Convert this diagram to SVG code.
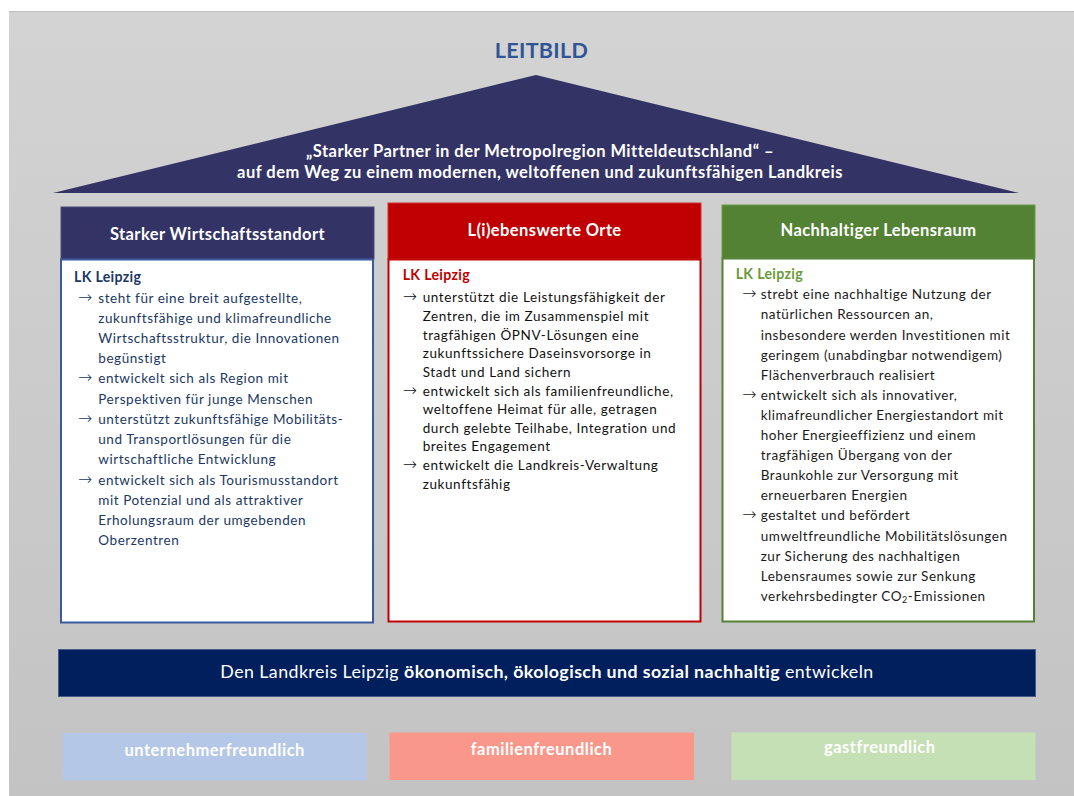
<svg xmlns="http://www.w3.org/2000/svg" width="1074" height="796" viewBox="0 0 1074 796">
<defs>
<linearGradient id="bg" x1="0" y1="0" x2="0" y2="1">
<stop offset="0" stop-color="#d3d3d3"/>
<stop offset="1" stop-color="#c3c3c3"/>
</linearGradient>
</defs>
<style>
text{font-family:Lato,"Liberation Sans","DejaVu Sans",sans-serif}
.hd{font-size:16.5px;font-weight:bold;fill:#ffffff;text-anchor:middle;letter-spacing:0.4px}
.roof{font-size:16.5px;font-weight:bold;fill:#ffffff;text-anchor:middle;letter-spacing:0.48px}
.body{font-size:13.5px;letter-spacing:0.55px}
.bodyr{font-size:13.5px;letter-spacing:0.6px}
.lk{font-size:14.2px;font-weight:bold;letter-spacing:0.3px}
.arr{font-family:"DejaVu Sans",sans-serif;font-size:17px;font-weight:200}
.small{font-size:16.5px;font-weight:bold;fill:#ffffff;text-anchor:middle;letter-spacing:0.5px}
</style>
<rect x="0" y="0" width="1074" height="796" fill="#ffffff"/>
<rect x="9" y="11" width="1065" height="785" fill="url(#bg)"/>
<line x1="9" y1="11.5" x2="1074" y2="11.5" stroke="#bdbdbd" stroke-width="1"/>

<g id="title">
<text x="541.5" y="58" text-anchor="middle" font-size="21.5" font-weight="bold" letter-spacing="0.3" fill="#2f5597">LEITBILD</text>
</g>

<g id="roof">
<polygon points="53,193 536,75 1019,193" fill="#333366"/>
<text class="roof" x="540" y="157">„Starker Partner in der Metropolregion Mitteldeutschland“ –</text>
<text class="roof" x="540" y="178">auf dem Weg zu einem modernen, weltoffenen und zukunftsfähigen Landkreis</text>
</g>

<g id="col-wirtschaft">
<rect x="61" y="207" width="313" height="52" fill="#333366" stroke="#4a4a7a" stroke-width="1"/>
<text class="hd" x="217.5" y="240">Starker Wirtschaftsstandort</text>
<rect x="61" y="259.5" width="312" height="363" fill="#ffffff" stroke="#3a5a9e" stroke-width="2"/>
<text class="lk" x="74" y="281.7" fill="#203864">LK Leipzig</text>
<g fill="#203864">
<text class="arr" x="78" y="303">→</text>
<text class="arr" x="78" y="383">→</text>
<text class="arr" x="78" y="424">→</text>
<text class="arr" x="78" y="485">→</text>
<text class="body" x="98.3" y="303">
<tspan x="98.3" y="303">steht für eine breit aufgestellte,</tspan>
<tspan x="98.3" y="323">zukunftsfähige und klimafreundliche</tspan>
<tspan x="98.3" y="343">Wirtschaftsstruktur, die Innovationen</tspan>
<tspan x="98.3" y="363">begünstigt</tspan>
<tspan x="98.3" y="383">entwickelt sich als Region mit</tspan>
<tspan x="98.3" y="404">Perspektiven für junge Menschen</tspan>
<tspan x="98.3" y="424">unterstützt zukunftsfähige Mobilitäts-</tspan>
<tspan x="98.3" y="444">und Transportlösungen für die</tspan>
<tspan x="98.3" y="464">wirtschaftliche Entwicklung</tspan>
<tspan x="98.3" y="485">entwickelt sich als Tourismusstandort</tspan>
<tspan x="98.3" y="505">mit Potenzial und als attraktiver</tspan>
<tspan x="98.3" y="525">Erholungsraum der umgebenden</tspan>
<tspan x="98.3" y="545">Oberzentren</tspan>
</text>
</g>
</g>

<g id="col-orte">
<rect x="388" y="203" width="313" height="56" fill="#c00000" stroke="#d03030" stroke-width="1"/>
<text class="hd" x="544.5" y="236">L(i)ebenswerte Orte</text>
<rect x="388.5" y="259.5" width="312" height="362" fill="#ffffff" stroke="#c00000" stroke-width="2"/>
<text class="lk" x="402.7" y="280" fill="#c00000">LK Leipzig</text>
<g fill="#111111">
<text class="arr" x="402.7" y="302.3">→</text>
<text class="arr" x="402.7" y="395.5">→</text>
<text class="arr" x="402.7" y="470">→</text>
<text class="bodyr" x="422.7" y="302.3">
<tspan x="422.7" y="302.3">unterstützt die Leistungsfähigkeit der</tspan>
<tspan x="422.7" y="320.9">Zentren, die im Zusammenspiel mit</tspan>
<tspan x="422.7" y="339.6">tragfähigen ÖPNV-Lösungen eine</tspan>
<tspan x="422.7" y="358.2">zukunftssichere Daseinsvorsorge in</tspan>
<tspan x="422.7" y="376.8">Stadt und Land sichern</tspan>
<tspan x="422.7" y="395.5">entwickelt sich als familienfreundliche,</tspan>
<tspan x="422.7" y="414.1">weltoffene Heimat für alle, getragen</tspan>
<tspan x="422.7" y="432.7">durch gelebte Teilhabe, Integration und</tspan>
<tspan x="422.7" y="451.4">breites Engagement</tspan>
<tspan x="422.7" y="470">entwickelt die Landkreis-Verwaltung</tspan>
<tspan x="422.7" y="488.6">zukunftsfähig</tspan>
</text>
</g>
</g>

<g id="col-lebensraum">
<rect x="722" y="205" width="313" height="53" fill="#548235" stroke="#6a9a4a" stroke-width="1"/>
<text class="hd" x="878.5" y="236">Nachhaltiger Lebensraum</text>
<rect x="722.5" y="258.5" width="311.5" height="363" fill="#ffffff" stroke="#548235" stroke-width="2"/>
<text class="lk" x="735.7" y="279.3" fill="#6a9a3a">LK Leipzig</text>
<g fill="#1a1a1a">
<text class="arr" x="742.3" y="299.3">→</text>
<text class="arr" x="742.3" y="399.8">→</text>
<text class="arr" x="742.3" y="520.4">→</text>
<text class="body" x="760.7" y="299.3">
<tspan x="760.7" y="299.3">strebt eine nachhaltige Nutzung der</tspan>
<tspan x="760.7" y="319.4">natürlichen Ressourcen an,</tspan>
<tspan x="760.7" y="339.5">insbesondere werden Investitionen mit</tspan>
<tspan x="760.7" y="359.6">geringem (unabdingbar notwendigem)</tspan>
<tspan x="760.7" y="379.7">Flächenverbrauch realisiert</tspan>
<tspan x="760.7" y="399.8">entwickelt sich als innovativer,</tspan>
<tspan x="760.7" y="419.9">klimafreundlicher Energiestandort mit</tspan>
<tspan x="760.7" y="440">hoher Energieeffizienz und einem</tspan>
<tspan x="760.7" y="460.1">tragfähigen Übergang von der</tspan>
<tspan x="760.7" y="480.2">Braunkohle zur Versorgung mit</tspan>
<tspan x="760.7" y="500.3">erneuerbaren Energien</tspan>
<tspan x="760.7" y="520.4">gestaltet und befördert</tspan>
<tspan x="760.7" y="540.5">umweltfreundliche Mobilitätslösungen</tspan>
<tspan x="760.7" y="560.6">zur Sicherung des nachhaltigen</tspan>
<tspan x="760.7" y="580.7">Lebensraumes sowie zur Senkung</tspan>
<tspan x="760.7" y="600.8">verkehrsbedingter CO<tspan font-size="9" dy="2.5">2</tspan><tspan dy="-2.5">-Emissionen</tspan></tspan>
</text>
</g>
</g>

<g id="bar">
<rect x="58.5" y="649.5" width="977" height="47" fill="#001f5c" stroke="#4a5a88" stroke-width="1"/>
<text x="547" y="678" text-anchor="middle" font-size="17.8" letter-spacing="0.43" fill="#ffffff">Den Landkreis Leipzig <tspan font-weight="bold">ökonomisch, ökologisch und sozial nachhaltig</tspan> entwickeln</text>
</g>

<g id="box-unternehmer">
<rect x="63" y="733" width="303.5" height="47.5" fill="#b4c7e7"/>
<text class="small" x="214.7" y="755.5">unternehmerfreundlich</text>
</g>
<g id="box-familien">
<rect x="389.5" y="732.5" width="304.5" height="47.5" fill="#f8978a"/>
<text class="small" x="541.5" y="754.8">familienfreundlich</text>
</g>
<g id="box-gast">
<rect x="731.5" y="732.3" width="304" height="47.7" fill="#c5e0b4"/>
<text class="small" x="879.8" y="753.2">gastfreundlich</text>
</g>
</svg>
